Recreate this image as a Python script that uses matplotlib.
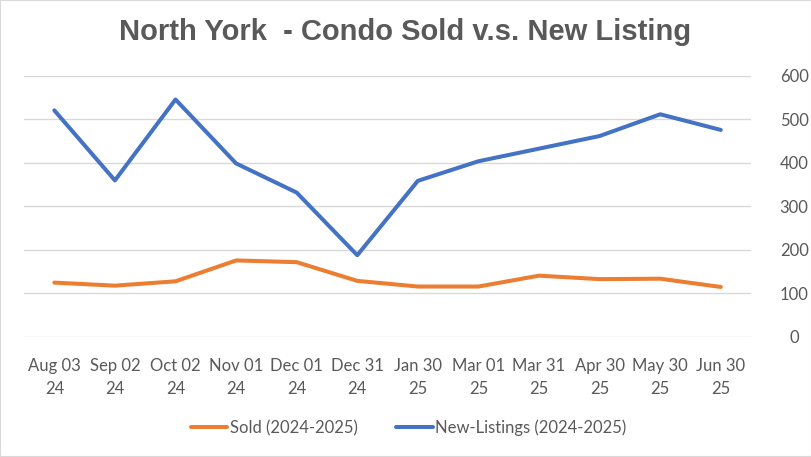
import matplotlib
matplotlib.use("Agg")
import matplotlib.pyplot as plt
from matplotlib.patches import Rectangle

# data
dates = ["Aug 03\n24", "Sep 02\n24", "Oct 02\n24", "Nov 01\n24", "Dec 01\n24", "Dec 31\n24",
         "Jan 30\n25", "Mar 01\n25", "Mar 31\n25", "Apr 30\n25", "May 30\n25", "Jun 30\n25"]
sold = [125, 118, 128, 176, 172, 129, 116, 116, 141, 133, 134, 115]
new_listings = [521, 360, 546, 399, 332, 188, 359, 404, 433, 462, 512, 476]

plt.rcParams['font.family'] = ['Lato', 'DejaVu Sans']
grey = '#595959'

fig = plt.figure(figsize=(8.12, 4.57), dpi=100)
ax = fig.add_axes([0.0296, 0.2626, 0.8954, 0.5711])

x = list(range(len(dates)))
ax.plot(x, sold, color='#ed7d31', lw=2.9, solid_capstyle='round', solid_joinstyle='round',
        label='Sold (2024-2025)')
ax.plot(x, new_listings, color='#4472c4', lw=2.9, solid_capstyle='round', solid_joinstyle='round',
        label='New-Listings (2024-2025)')

ax.set_xlim(-0.5, len(dates) - 0.5)
ax.set_ylim(0, 600)
ax.set_yticks(range(0, 601, 100))
ax.yaxis.tick_right()
ax.set_xticks(x)
ax.set_xticklabels(dates, linespacing=1.55)
ax.tick_params(axis='both', length=0, labelsize=12, colors=grey)
ax.tick_params(axis='y', pad=31)
ax.tick_params(axis='x', pad=15)
for lab in ax.get_yticklabels():
    lab.set_horizontalalignment('center')
ax.grid(axis='y', color='#d9d9d9', lw=1)
ax.set_axisbelow(True)
for s in ax.spines.values():
    s.set_visible(False)

fig.text(0.499, 0.93, "North York  - Condo Sold v.s. New Listing", ha='center', va='center',
         fontsize=21, fontweight='bold', color=grey,
         family=['Liberation Sans Narrow', 'Liberation Sans', 'DejaVu Sans'])

fig.legend(loc='center', bbox_to_anchor=(0.503, 0.064), ncol=2, frameon=False,
           fontsize=12, labelcolor=grey, handlelength=2.2, handletextpad=0.15,
           columnspacing=2.3)

fig.patches.append(Rectangle((0, 0), 1, 1, transform=fig.transFigure, fill=False,
                             edgecolor='#d9d9d9', lw=1.5))

fig.savefig('out.png', dpi=100)
